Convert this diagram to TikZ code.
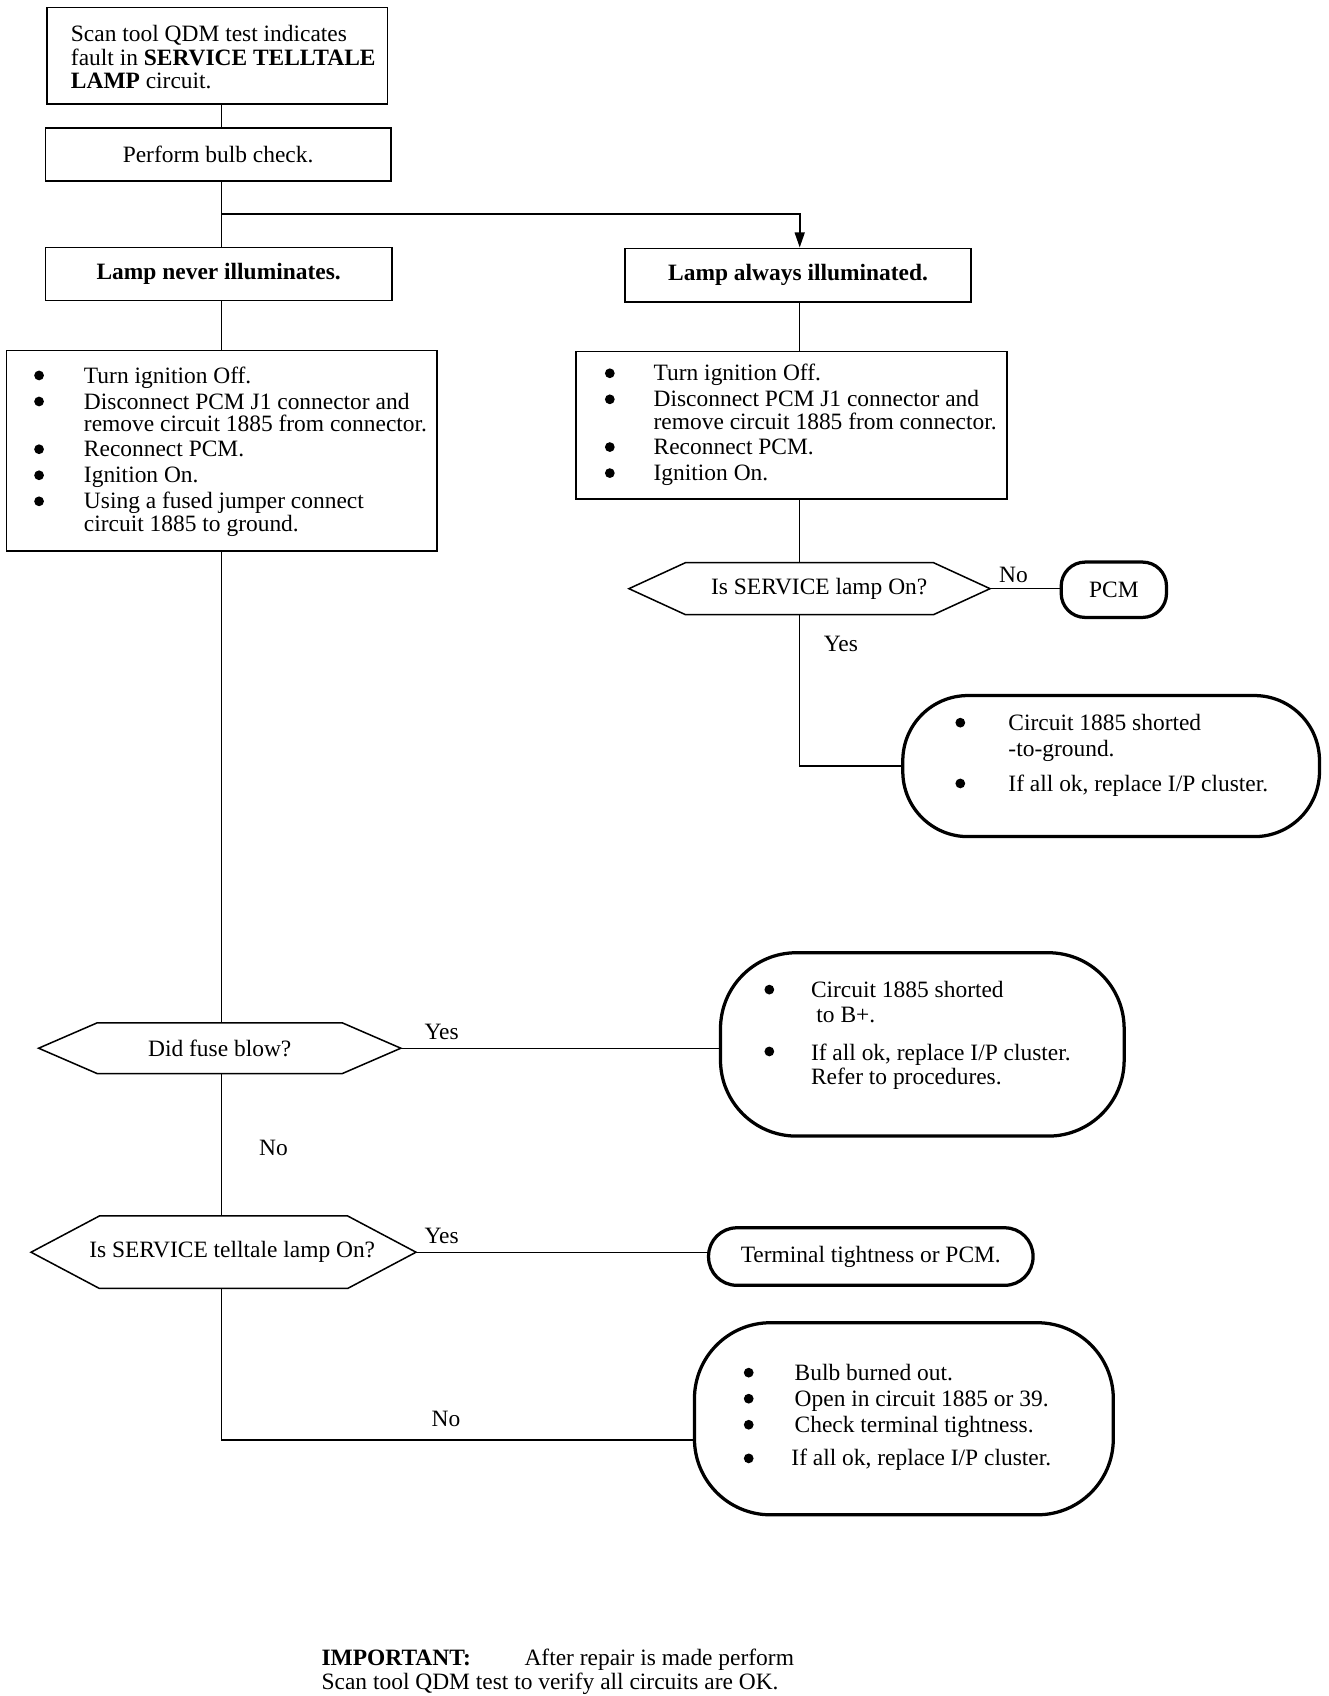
\documentclass[tikz,border=0pt]{standalone}
\usepackage{fontspec}
\setmainfont{Liberation Serif}
\usetikzlibrary{calc,arrows.meta}
\newcommand\myfs{\fontsize{10.8}{11.5}\selectfont}
\newcommand\hexa[2]{\draw[hexline] (#1.west) -- ($(#1.north west)+(#2,0)$) -- ($(#1.north east)+(-#2,0)$) -- (#1.east) -- ($(#1.south east)+(-#2,0)$) -- ($(#1.south west)+(#2,0)$) -- cycle;}
\begin{document}
\begin{tikzpicture}[x=0.5pt,y=-0.5pt,
  box/.style={draw, line width=0.8pt, inner sep=0pt, font=\myfs},
  oval/.style={draw, line width=1.5pt, inner sep=0pt, font=\myfs},
  hexnode/.style={inner sep=0pt, font=\myfs},
  hexline/.style={line width=0.7pt},
  txt/.style={inner sep=0pt, anchor=base west, font=\myfs},
  lbl/.style={inner sep=0pt, font=\myfs},
  conn/.style={line width=0.6pt}]
\useasboundingbox (0,0) rectangle (1224,1563);
\coordinate (spL) at (204,0);
\coordinate (spR) at (737,0);
\coordinate (j1) at (204,197);
\coordinate (j4) at (204,1327);

% top box
\node[box, minimum width=157pt, minimum height=44.5pt] (b1) at (200,51.5) {};
\node[txt] (t1) at (65,38) {Scan tool QDM test indicates};
\node[txt] (t2) at (65,60) {fault in \textbf{SERVICE TELLTALE}};
\node[txt] (t3) at (65,82) {\textbf{LAMP} circuit.};

\node[box, minimum width=159pt, minimum height=24.5pt] (b2) at (201,142.5) {Perform bulb check.};
\node[box, minimum width=159.5pt, minimum height=24.5pt, font=\myfs\bfseries] (b3) at (201.5,252.5) {Lamp never illuminates.};
\node[box, minimum width=159.5pt, minimum height=24.5pt, font=\myfs\bfseries] (b4) at (735.5,253.5) {Lamp always illuminated.};

% left steps box
\node[box, minimum width=198.5pt, minimum height=92.5pt] (b5) at (204.5,415.5) {};
\foreach \yy in {346,370,414,438,462} \fill (36,\yy) circle (4.5);
\node[txt] (t4) at (77,353) {Turn ignition Off.};
\node[txt] (t5) at (77,377) {Disconnect PCM J1 connector and};
\node[txt] (t6) at (77,398) {remove circuit 1885 from connector.};
\node[txt] (t7) at (77,421) {Reconnect PCM.};
\node[txt] (t8) at (77,445) {Ignition On.};
\node[txt] (t9) at (77,469) {Using a fused jumper connect};
\node[txt] (t10) at (77,490) {circuit 1885 to ground.};

% right steps box
\node[box, minimum width=198.5pt, minimum height=68pt] (b6) at (729.5,392) {};
\foreach \yy in {344,368,412,436} \fill (562,\yy) circle (4.5);
\node[txt] (t11) at (602,351) {Turn ignition Off.};
\node[txt] (t12) at (602,375) {Disconnect PCM J1 connector and};
\node[txt] (t13) at (602,396) {remove circuit 1885 from connector.};
\node[txt] (t14) at (602,419) {Reconnect PCM.};
\node[txt] (t15) at (602,443) {Ignition On.};

% decision 1
\node[hexnode, minimum width=166pt, minimum height=23.5pt] (d1) at (746,542.5) {\hspace*{9pt}Is SERVICE lamp On?};
\hexa{d1}{52}
\node[oval, rounded corners=11pt, minimum width=48.5pt, minimum height=25.5pt] (pcm) at (1026.5,543.5) {PCM};
\node[lbl] (n1) at (934,530) {No};
\node[lbl] (n2) at (775,593) {Yes};

\node[oval, rounded corners=30pt, minimum width=192pt, minimum height=65pt] (o1) at (1024,706) {};
\fill (885,666) circle (4.5);
\fill (885,722) circle (4.5);
\node[txt] (t16) at (929,673) {Circuit 1885 shorted};
\node[txt] (t17) at (929,697) {-to-ground.};
\node[txt] (t18) at (929,729) {If all ok, replace I/P cluster.};

% decision 2
\node[hexnode, minimum width=166.5pt, minimum height=23pt] (d2) at (202.5,966) {Did fuse blow?};
\hexa{d2}{54}
\node[lbl] (n3) at (407,951) {Yes};
\node[oval, rounded corners=35pt, minimum width=186pt, minimum height=84.5pt] (o2) at (850,962.5) {};
\fill (709,912) circle (4.5);
\fill (709,969) circle (4.5);
\node[txt] (t19) at (747,919) {Circuit 1885 shorted};
\node[txt] (t20) at (752,942) {to B+.};
\node[txt] (t21) at (747,977) {If all ok, replace I/P cluster.};
\node[txt] (t22) at (747,999) {Refer to procedures.};
\node[lbl] (n4) at (252,1058) {No};

% decision 3
\node[hexnode, minimum width=177pt, minimum height=33pt] (d3) at (206,1154) {\hspace*{8pt}Is SERVICE telltale lamp On?};
\hexa{d3}{63}
\node[lbl] (n5) at (407,1139) {Yes};
\node[oval, rounded corners=13pt, minimum width=149.5pt, minimum height=26.5pt] (o3) at (802.5,1158) {Terminal tightness or PCM.};
\node[lbl] (n6) at (411,1308) {No};

\node[oval, rounded corners=35pt, minimum width=193pt, minimum height=88.5pt] (o4) at (833,1307.5) {};
\foreach \yy in {1265,1289,1313,1344} \fill (690,\yy) circle (4.5);
\node[txt] (t23) at (732,1272) {Bulb burned out.};
\node[txt] (t24) at (732,1296) {Open in circuit 1885 or 39.};
\node[txt] (t25) at (732,1320) {Check terminal tightness.};
\node[txt] (t26) at (729,1351) {If all ok, replace I/P cluster.};

% note
\node[txt] (t27) at (296,1535) {\textbf{IMPORTANT:}};
\node[txt] (t28) at (483,1535) {After repair is made perform};
\node[txt] (t29) at (296,1557) {Scan tool QDM test to verify all circuits are OK.};

% connectors
\draw[conn] (b1.south -| spL) -- (b2.north -| spL);
\draw[conn] (b2.south -| spL) -- (b3.north -| spL);
\draw[line width=1pt, -{Triangle[length=7pt,width=4.5pt]}] (j1) -- (j1 -| spR) -- (b4.north -| spR);
\draw[conn] (b3.south -| spL) -- (b5.north -| spL);
\draw[conn] (b4.south -| spR) -- (b6.north -| spR);
\draw[conn] (b6.south -| spR) -- (d1.north -| spR);
\draw[conn] (d1.east) -- (d1.east -| pcm.west);
\draw[conn] (d1.south -| spR) -- (spR |- o1.west) -- (o1.west);
\draw[conn] (b5.south -| spL) -- (d2.north -| spL);
\draw[conn] (d2.east) -- (d2.east -| o2.west);
\draw[conn] (d2.south -| spL) -- (d3.north -| spL);
\draw[conn] (d3.east) -- (d3.east -| o3.west);
\draw[conn] (d3.south -| spL) -- (j4) -- (j4 -| o4.west);
\end{tikzpicture}
\end{document}
